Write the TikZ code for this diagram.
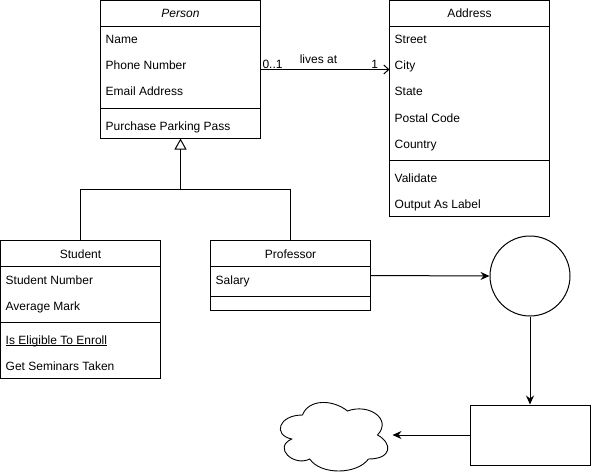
\documentclass[tikz,border=0pt]{standalone}
\usepackage{fontspec}
\setmainfont{Liberation Sans}
\usetikzlibrary{arrows.meta}
\newcommand\umlfont{\fontsize{12}{14}\selectfont}
\tikzset{
  cls/.style={draw, line width=1pt, minimum width=160pt, inner sep=0pt, outer sep=0pt, anchor=north west},
  attr/.style={anchor=base west, inner sep=0pt, font=\umlfont},
  hdr/.style={anchor=base, inner sep=0pt, font=\umlfont},
  lbl/.style={inner sep=0pt, font=\umlfont},
  ln/.style={line width=1pt},
  arr/.style={line width=1pt, -{Stealth[length=9pt,width=8pt,inset=3pt]}},
  assoc/.style={line width=1pt, -{Straight Barb[length=5pt,width=9pt,line width=1pt]}},
  gen/.style={line width=1pt, -{Triangle[open,length=11pt,width=12pt,line width=1pt]}}
}
\begin{document}
\begin{tikzpicture}[x=1pt,y=-1pt]
\useasboundingbox (0,0) rectangle (591,476);

% ---------- Person ----------
\node[cls, minimum height=138pt] (person) at (100.5,0.5) {};
\draw[ln] ([yshift=-26pt]person.north west) -- ([yshift=-26pt]person.north east);
\draw[ln] ([yshift=-108pt]person.north west) -- ([yshift=-108pt]person.north east);
\node[hdr, font=\umlfont\itshape] (personT) at (180.5,18) {Person};
\node[attr] (pname) at (105.5,44) {Name};
\node[attr] (pphone) at (105.5,70) {Phone Number};
\node[attr] (pmail) at (105.5,96) {Email Address};
\node[attr] (ppark) at (105.5,130) {Purchase Parking Pass};

% ---------- Address ----------
\node[cls, minimum height=216pt] (address) at (389.5,0.5) {};
\draw[ln] ([yshift=-26pt]address.north west) -- ([yshift=-26pt]address.north east);
\draw[ln] ([yshift=-160pt]address.north west) -- ([yshift=-160pt]address.north east);
\node[hdr] (addressT) at (469.5,18) {Address};
\node[attr] (astreet) at (394.5,44) {Street};
\node[attr] (acity) at (394.5,70) {City};
\node[attr] (astate) at (394.5,96) {State};
\node[attr] (apostal) at (394.5,122) {Postal Code};
\node[attr] (acountry) at (394.5,148) {Country};
\node[attr] (avalid) at (394.5,182) {Validate};
\node[attr] (aoutput) at (394.5,208) {Output As Label};

% ---------- Student ----------
\node[cls, minimum height=138pt] (student) at (0.5,240.5) {};
\draw[ln] ([yshift=-26pt]student.north west) -- ([yshift=-26pt]student.north east);
\draw[ln] ([yshift=-82pt]student.north west) -- ([yshift=-82pt]student.north east);
\node[hdr] (studentT) at (80.5,258) {Student};
\node[attr] (snum) at (5.5,284) {Student Number};
\node[attr] (smark) at (5.5,310) {Average Mark};
\node[attr] (selig) at (5.5,344) {Is Eligible To Enroll};
\draw[line width=0.8pt] ([yshift=-1.6pt]selig.base west) -- ([yshift=-1.6pt]selig.base east);
\node[attr] (ssem) at (5.5,370) {Get Seminars Taken};

% ---------- Professor ----------
\node[cls, minimum height=70pt] (prof) at (210.5,240.5) {};
\draw[ln] ([yshift=-26pt]prof.north west) -- ([yshift=-26pt]prof.north east);
\draw[ln] ([yshift=-56pt]prof.north west) -- ([yshift=-56pt]prof.north east);
\node[hdr] (profT) at (290.5,258) {Professor};
\node[attr] (psal) at (215.5,284) {Salary};

% ---------- association ----------
\draw[assoc] (person.east) -- (person.east -| address.west)
  node[lbl, pos=0, anchor=base west, xshift=1.5pt, yshift=1pt] (m1) {0..1}
  node[lbl, pos=0.5, anchor=base, xshift=-6.5pt, yshift=5.5pt] (assocL) {lives at}
  node[lbl, pos=1, anchor=base east, xshift=-11pt, yshift=1pt] (m2) {1};

% ---------- generalization ----------
\coordinate (genj) at (180.5,189.5);
\draw[ln] (student.north) |- (genj) -| (prof.north);
\draw[gen] (genj) -- (person.south);

% ---------- flow shapes ----------
\node[circle, draw, line width=1pt, minimum size=80pt, inner sep=0pt] (circ) at (530,276) {};
\node[draw, line width=1pt, minimum width=120pt, minimum height=60pt, inner sep=0pt] (box) at (530,435) {};
\node[minimum width=120pt, minimum height=80pt, inner sep=0pt, outer sep=0pt] (cloudbox) at (332.5,435) {};
\begin{scope}[shift={(cloudbox.north west)}, x=120pt, y=-80pt]
\draw[line width=0.9pt] (0.25,0.25) .. controls (0.05,0.25) and (0,0.5) .. (0.16,0.55)
  .. controls (0,0.66) and (0.18,0.9) .. (0.31,0.8)
  .. controls (0.4,1) and (0.7,1) .. (0.8,0.8)
  .. controls (1,0.8) and (1,0.6) .. (0.875,0.5)
  .. controls (1,0.3) and (0.8,0.1) .. (0.625,0.2)
  .. controls (0.5,0.05) and (0.3,0.05) .. (0.25,0.25) -- cycle;
\end{scope}

\draw[arr] (prof.east) -- (circ.west);
\draw[arr] (circ.south) -- (box.north);
\draw[arr] (box.west) -- (cloudbox.east);
\end{tikzpicture}
\end{document}
